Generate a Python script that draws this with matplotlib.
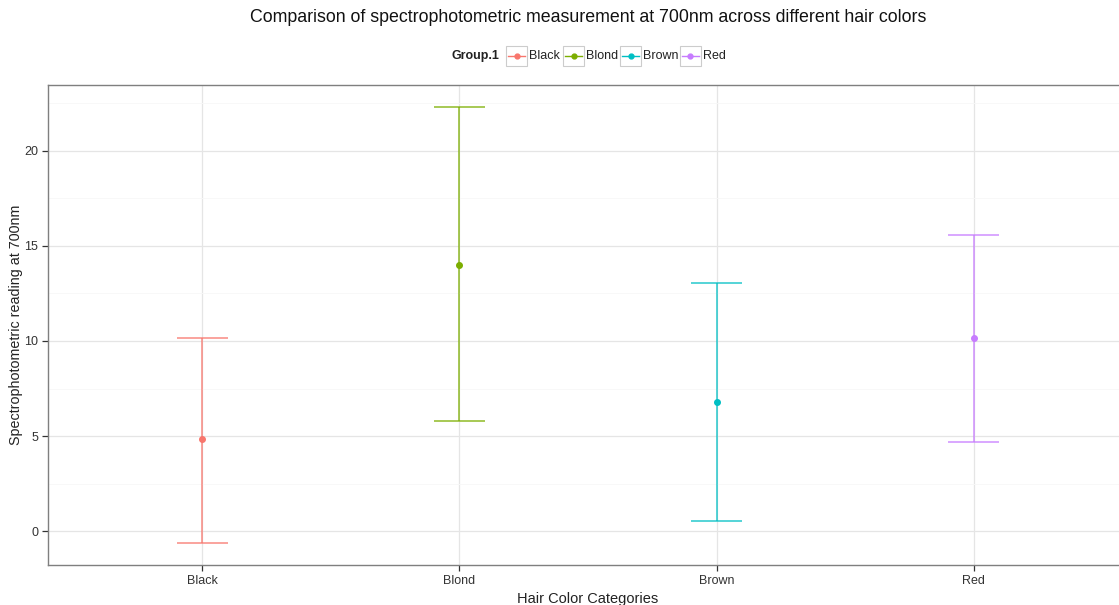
import matplotlib
matplotlib.use("Agg")
import matplotlib.pyplot as plt
from matplotlib.patches import Rectangle
from matplotlib.lines import Line2D

plt.rcParams["font.family"] = ["Liberation Sans", "DejaVu Sans"]

# 均值及误差区间（700nm 分光光度读数）
groups = ["Black", "Blond", "Brown", "Red"]
means = [4.83, 14.02, 6.77, 10.18]
lower = [-0.63, 5.77, 0.52, 4.67]
upper = [10.18, 22.31, 13.07, 15.59]
colors = ["#F8766D", "#7CAE00", "#00BFC4", "#C77CFF"]
y_ticks = [0, 5, 10, 15, 20]
y_minor = [2.5, 7.5, 12.5, 17.5, 22.5]

W, H = 1119, 605
fig = plt.figure(figsize=(W / 100, H / 100), dpi=100)


def px(x, y):
    """像素坐标（左上为原点）-> figure 坐标"""
    return x / W, 1 - y / H


# 面板右侧略超出画布
left, right, top, bottom = 48, 1128, 85, 565
ax = fig.add_axes([left / W, (H - bottom) / H, (right - left) / W, (bottom - top) / H])

xs = list(range(1, len(groups) + 1))
cap = 0.1
for x, m, lo, hi, c in zip(xs, means, lower, upper, colors):
    ax.vlines(x, lo, hi, color=c, lw=1.1, alpha=0.85, zorder=3)
    ax.hlines([lo, hi], x - cap, x + cap, color=c, lw=1.1, alpha=0.85, zorder=3)
    ax.plot(x, m, "o", color=c, ms=4, zorder=4)

ax.set_xticks(xs)
ax.set_xticklabels(groups)
ax.set_yticks(y_ticks)
ax.set_yticks(y_minor, minor=True)
# 刻度设置之后再定范围，避免被刻度撑开
span = max(upper) - min(lower)
ax.set_ylim(min(lower) - 0.05 * span, max(upper) + 0.05 * span)
ax.set_xlim(0.4, len(groups) + 0.6)

ax.grid(True, which="major", color="#E5E5E5", lw=0.9)
ax.grid(True, which="minor", axis="y", color="#F7F7F7", lw=0.6)
ax.set_axisbelow(True)
for s in ax.spines.values():
    s.set_color("#7F7F7F")
    s.set_linewidth(1.0)

ax.tick_params(axis="both", which="major", length=4, width=0.9, color="#333333",
               labelsize=9, labelcolor="#333333", pad=3)
ax.tick_params(axis="both", which="minor", length=0)

ax.set_xlabel("Hair Color Categories", fontsize=10.5, color="#222222", labelpad=4)
ax.set_ylabel("Spectrophotometric reading at 700nm", fontsize=10.3, color="#222222", labelpad=1)

panel_cx = (left + right) / 2
fig.text(*px(panel_cx, 18), "Comparison of spectrophotometric measurement at 700nm across different hair colors",
         ha="center", va="center", fontsize=12.8, color="#111111")

# 图例（水平排列，标题在左）
leg_y = 56
fig.text(*px(452, leg_y), "Group.1", ha="left", va="center", fontsize=9, fontweight="bold", color="#222222")
key_x = [506, 563, 620, 680]
for kx, name, c in zip(key_x, groups, colors):
    x0, y0 = px(kx, leg_y + 10)
    fig.patches.append(Rectangle((x0, y0), 21 / W, 20 / H, transform=fig.transFigure,
                                 facecolor="white", edgecolor="#CCCCCC", lw=0.8))
    xa, ya = px(kx + 2, leg_y)
    xb, _ = px(kx + 19, leg_y)
    fig.lines.append(Line2D([xa, xb], [ya, ya], transform=fig.transFigure, color=c, lw=1.0))
    fig.lines.append(Line2D([(xa + xb) / 2], [ya], transform=fig.transFigure, color=c,
                            marker="o", ms=3.5))
    fig.text(*px(kx + 23, leg_y), name, ha="left", va="center", fontsize=9, color="#222222")

fig.savefig("out.png", dpi=100)
